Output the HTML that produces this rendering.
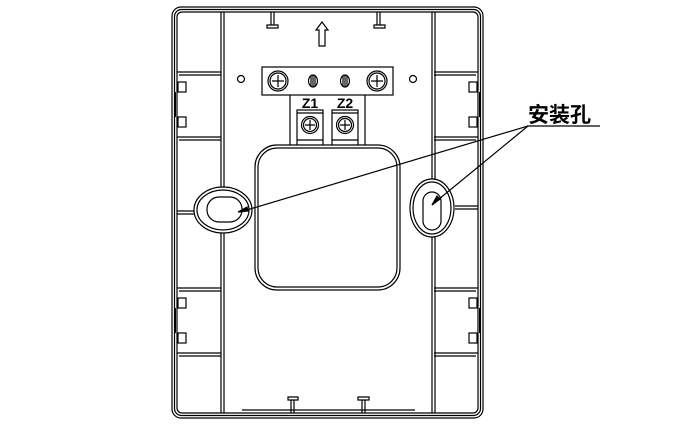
<!DOCTYPE html>
<html><head><meta charset="utf-8"><style>body{margin:0;background:#fff}svg{display:block}</style></head><body>
<svg width="700" height="427" viewBox="0 0 700 427" xmlns="http://www.w3.org/2000/svg" fill="none" stroke="#000" stroke-width="1.2">
<rect x="172" y="7" width="311" height="411" rx="9"/>
<rect x="174.5" y="9.5" width="306" height="406" rx="7"/>
<rect x="177" y="12" width="301" height="401" rx="5"/>
<line x1="221" y1="12" x2="221" y2="413"/><line x1="224" y1="12" x2="224" y2="413"/>
<line x1="432" y1="12" x2="432" y2="413"/><line x1="435" y1="12" x2="435" y2="413"/>
<g>
<line x1="177" y1="72" x2="221" y2="72"/><line x1="179" y1="75" x2="221" y2="75"/>
<line x1="177" y1="137" x2="221" y2="137"/><line x1="179" y1="140" x2="221" y2="140"/>
<line x1="177" y1="288" x2="221" y2="288"/><line x1="179" y1="291" x2="221" y2="291"/>
<line x1="177" y1="353" x2="221" y2="353"/><line x1="179" y1="356" x2="221" y2="356"/>
<line x1="177" y1="211" x2="194" y2="211"/><line x1="177" y1="214" x2="194" y2="214"/>
<line x1="434" y1="72" x2="478" y2="72"/><line x1="434" y1="75" x2="476" y2="75"/>
<line x1="434" y1="137" x2="478" y2="137"/><line x1="434" y1="140" x2="476" y2="140"/>
<line x1="434" y1="288" x2="478" y2="288"/><line x1="434" y1="291" x2="476" y2="291"/>
<line x1="434" y1="353" x2="478" y2="353"/><line x1="434" y1="356" x2="476" y2="356"/>
<line x1="455" y1="206" x2="478" y2="206"/><line x1="455" y1="209" x2="478" y2="209"/>
<rect x="178" y="82" width="8" height="10"/><rect x="178" y="117" width="8" height="10"/>
<rect x="178" y="298" width="8" height="10"/><rect x="178" y="333" width="8" height="10"/>
<rect x="469" y="82" width="8" height="10"/><rect x="469" y="117" width="8" height="10"/>
<rect x="469" y="298" width="8" height="10"/><rect x="469" y="333" width="8" height="10"/>
<line x1="175" y1="92" x2="175" y2="117" stroke-width="2"/><line x1="175" y1="308" x2="175" y2="333" stroke-width="2"/>
<line x1="480" y1="92" x2="480" y2="117" stroke-width="2"/><line x1="480" y1="308" x2="480" y2="333" stroke-width="2"/>
</g>
<path d="M271 12V25M274 12V25M267 25h11v3h-11z"/>
<path d="M377 12V25M380 12V25M374 25h11v3h-11z"/>
<path d="M291 413V400M294 400V413M288 397h10v3h-10z"/>
<path d="M362 413V400M365 400V413M358 397h11v3h-11z"/>
<line x1="242" y1="410" x2="415" y2="410"/>
<path d="M322 22l-6 8h3v16h6v-16h3z"/>
<circle cx="241" cy="79" r="3.5"/><circle cx="413" cy="79" r="3.5"/>
<rect x="262" y="67" width="131" height="28"/>
<circle cx="278" cy="81" r="10"/><circle cx="278" cy="81" r="8"/><path d="M272 81h12M278 75v12"/>
<circle cx="377" cy="81" r="10"/><circle cx="377" cy="81" r="8"/><path d="M371 81h12M377 75v12"/>
<ellipse cx="313" cy="81" rx="4.5" ry="6"/><path d="M311 76v10M313 75v12M315 76v10"/>
<ellipse cx="345" cy="81" rx="4.5" ry="6"/><path d="M343 76v10M345 75v12M347 76v10"/>
<path d="M290 95v50M365 95v50"/>
<rect x="297" y="110" width="26" height="40"/><rect x="332" y="110" width="26" height="40"/>
<path d="M297 113h26M332 113h26M297 140h26M332 140h26"/>
<circle cx="310" cy="125" r="8.5"/><circle cx="310" cy="125" r="6.5"/><path d="M305 125h10M310 120v10"/>
<circle cx="345" cy="125" r="8.5"/><circle cx="345" cy="125" r="6.5"/><path d="M340 125h10M345 120v10"/>
<text x="310" y="108" font-family="Liberation Sans, sans-serif" font-size="14" font-weight="bold" text-anchor="middle" fill="#000" stroke="none">Z1</text>
<text x="345" y="108" font-family="Liberation Sans, sans-serif" font-size="14" font-weight="bold" text-anchor="middle" fill="#000" stroke="none">Z2</text>
<rect x="255" y="145" width="145" height="145" rx="22" fill="#fff"/>
<rect x="258" y="148" width="139" height="139" rx="19"/>
<ellipse cx="223" cy="210" rx="29" ry="23" fill="#fff"/>
<ellipse cx="223" cy="210" rx="26" ry="20"/>
<rect x="207" y="197" width="35" height="25" rx="12"/>
<ellipse cx="432" cy="208" rx="22" ry="29" fill="#fff"/>
<ellipse cx="432" cy="208" rx="19" ry="26"/>
<rect x="423" y="192" width="18" height="38" rx="9"/>
<line x1="528" y1="126" x2="240" y2="212"/>
<line x1="528" y1="126" x2="433" y2="204"/>
<path d="M238 212l9-5 1 4z" fill="#000"/>
<path d="M432 205l5-9 3 3z" fill="#000"/>
<line x1="527" y1="126" x2="600" y2="126"/>
<text x="528" y="122" font-family="Liberation Sans, 'Noto Sans CJK SC', sans-serif" font-size="21" font-weight="bold" fill="#000" stroke="none">安装孔</text>
</svg>
</body></html>
